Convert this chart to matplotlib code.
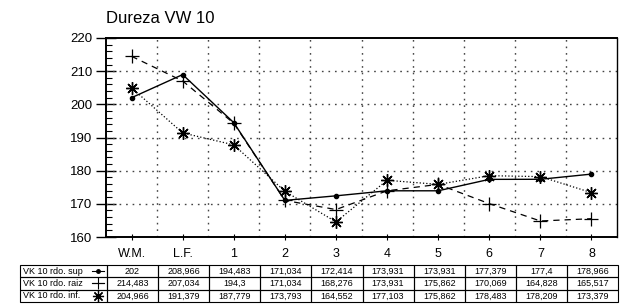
import numpy as np
import matplotlib
matplotlib.use("Agg")
import matplotlib.pyplot as plt
from matplotlib.lines import Line2D

plt.rcParams['font.family'] = ['Liberation Sans', 'DejaVu Sans']

categorias = ["W.M.", "L.F.", "1", "2", "3", "4", "5", "6", "7", "8"]
sup = [202, 208.966, 194.483, 171.034, 172.414, 173.931, 173.931, 177.379, 177.4, 178.966]
raiz = [214.483, 207.034, 194.3, 171.034, 168.276, 173.931, 175.862, 170.069, 164.828, 165.517]
inf = [204.966, 191.379, 187.779, 173.793, 164.552, 177.103, 175.862, 178.483, 178.209, 173.379]
etiquetas = ["VK 10 rdo. sup", "VK 10 rdo. raiz", "VK 10 rdo. inf."]

x = np.arange(len(categorias))

fig = plt.figure(figsize=(6.25, 3.06), dpi=100)
ax = fig.add_axes([106/625, 1-237/306, 511/625, 199/306])

# series
ax.plot(x, sup, '-', color='black', lw=1.0, marker='o', ms=3, zorder=3)
ax.plot(x, raiz, '--', color='black', lw=0.9, marker='+', ms=10, mew=0.9, dashes=(5, 4), zorder=3)
ax.plot(x, inf, ':', color='black', lw=0.9, marker=(8, 2, 0), ms=9, mew=1.0, zorder=3)

ax.set_xlim(-0.5, 9.5)
ax.set_ylim(160, 220)
ax.set_yticks(np.arange(160, 221, 10))
ax.set_yticks(np.arange(160, 221, 2), minor=True)
ax.set_xticks(x)
ax.set_xticklabels(categorias)
ax.tick_params(axis='y', which='major', direction='inout', length=14, width=1, labelsize=9.5, pad=3)
ax.tick_params(axis='y', which='minor', direction='in', length=4, width=0.8)
ax.tick_params(axis='x', which='major', direction='inout', length=4, width=0.8, labelsize=9, pad=6)

# grid: horizontal at major ticks, vertical between categories
for yv in range(170, 220, 10):
    ax.axhline(yv, color='#444444', ls=(0, (1.2, 3.5)), lw=1.0, zorder=2)
for xv in x[:-1] + 0.5:
    ax.axvline(xv, color='#444444', ls=(0, (1.2, 3.5)), lw=1.0, zorder=2)

for s in ['top', 'bottom', 'left']:
    ax.spines[s].set_linewidth(1.4)
ax.spines['right'].set_linewidth(1.0)

ax.set_title("Dureza VW 10", loc='left', x=0.0, fontsize=12, pad=11)

# table
celdas = []
for nombre, serie in zip(etiquetas, [sup, raiz, inf]):
    fila = [nombre] + [("%g" % v).replace('.', ',') for v in serie]
    celdas.append(fila)

anchos = [87] + [51.1] * 10
tab = ax.table(cellText=celdas, colWidths=[w / sum(anchos) for w in anchos],
               bbox=[(20-106)/511, (237-302)/199, 598/511, 37/199], cellLoc='center')
tab.auto_set_font_size(False)
tab.set_fontsize(6.5)
tab.set_zorder(1)
for (r, c), cell in tab.get_celld().items():
    cell.set_linewidth(0.8)
    cell.set_facecolor('none')
    if c == 0:
        cell.set_text_props(ha='left')
        cell.PAD = 0.03

# marker glyphs in the label column
estilos = [dict(ls='-', marker='o', ms=2.5), dict(ls='-', marker='+', ms=9, mew=0.8),
           dict(ls='none', marker=(8, 2, 0), ms=8, mew=0.9)]
filas_y = [271, 283, 295.5]
for est, yy in zip(estilos, filas_y):
    fig.add_artist(Line2D([92/625, 98/625, 104/625], [1-yy/306] * 3, color='black', lw=0.8,
                          markevery=[1], **est))

fig.savefig("out.png", dpi=100)
